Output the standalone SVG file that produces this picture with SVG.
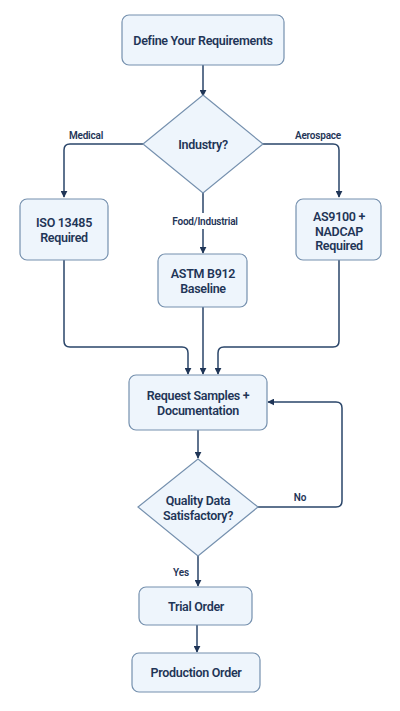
<svg xmlns="http://www.w3.org/2000/svg" width="400" height="711" viewBox="0 0 400 711">
<defs>
<style>
.box{fill:#eef5fc;stroke:#7590ae;stroke-width:1.2}
.t{font-family:Roboto,"Noto Sans",sans-serif;font-weight:600;font-size:12.5px;letter-spacing:-0.3px;fill:#1f3557;text-anchor:middle;dominant-baseline:central}
.lb{font-family:Roboto,"Noto Sans",sans-serif;font-weight:600;font-size:10px;letter-spacing:-0.2px;fill:#1f3557;text-anchor:middle;dominant-baseline:central}
.c{fill:none;stroke:#2a4569;stroke-width:1.5}
</style>
<marker id="ah" viewBox="0 0 10 10" refX="9" refY="5" markerWidth="7" markerHeight="7" markerUnits="userSpaceOnUse" orient="auto"><path d="M0,0 L10,5 L0,10 z" fill="#1f3557"/></marker>
</defs>
<rect width="400" height="711" fill="#ffffff"/>
<g id="connectors">
<path class="c" d="M203,65 V96" marker-end="url(#ah)"/>
<path class="c" d="M143,144 H70 Q64,144 64,150 V197" marker-end="url(#ah)"/>
<path class="c" d="M263,144 H333 Q339,144 339,150 V197" marker-end="url(#ah)"/>
<path class="c" d="M203,193 V213"/>
<path class="c" d="M203,229 V253" marker-end="url(#ah)"/>
<path class="c" d="M64,260 V341 Q64,347 70,347 H182 Q188,347 188,353 V374" marker-end="url(#ah)"/>
<path class="c" d="M203,307 V374" marker-end="url(#ah)"/>
<path class="c" d="M339,260 V341 Q339,347 333,347 H224 Q218,347 218,353 V374" marker-end="url(#ah)"/>
<path class="c" d="M198,430 V458" marker-end="url(#ah)"/>
<path class="c" d="M258,507 H336 Q342,507 342,501 V408 Q342,402 336,402 H268" marker-end="url(#ah)"/>
<path class="c" d="M198,556 V586" marker-end="url(#ah)"/>
<path class="c" d="M197,625 V652" marker-end="url(#ah)"/>
<text class="lb" x="86" y="135">Medical</text>
<text class="lb" x="318" y="135">Aerospace</text>
<text class="lb" x="205" y="221">Food/Industrial</text>
<text class="lb" x="300" y="497">No</text>
<text class="lb" x="181" y="572">Yes</text>
</g>
<g id="define"><rect class="box" x="122" y="15" width="162" height="50" rx="7"/><text class="t" x="203" y="40">Define Your Requirements</text></g>
<g id="industry"><path class="box" d="M203,95 L263,144 L203,193 L143,144 Z"/><text class="t" x="203" y="144">Industry?</text></g>
<g id="iso"><rect class="box" x="20" y="199" width="88" height="61" rx="7"/><text class="t" x="64" y="222">ISO 13485</text><text class="t" x="64" y="237">Required</text></g>
<g id="astm"><rect class="box" x="158" y="254" width="89" height="53" rx="7"/><text class="t" x="203" y="273">ASTM B912</text><text class="t" x="203" y="288">Baseline</text></g>
<g id="as9100"><rect class="box" x="296" y="199" width="85" height="61" rx="7"/><text class="t" x="339" y="216">AS9100 +</text><text class="t" x="339" y="231">NADCAP</text><text class="t" x="339" y="245">Required</text></g>
<g id="request"><rect class="box" x="129" y="375" width="138" height="55" rx="7"/><text class="t" x="198" y="395">Request Samples +</text><text class="t" x="198" y="410">Documentation</text></g>
<g id="quality"><path class="box" d="M198,459 L258,507 L198,556 L138,507 Z"/><text class="t" x="198" y="500">Quality Data</text><text class="t" x="198" y="515">Satisfactory?</text></g>
<g id="trial"><rect class="box" x="139" y="587" width="113" height="38" rx="7"/><text class="t" x="196" y="606">Trial Order</text></g>
<g id="production"><rect class="box" x="132" y="653" width="128" height="39" rx="7"/><text class="t" x="196" y="672">Production Order</text></g>
</svg>
